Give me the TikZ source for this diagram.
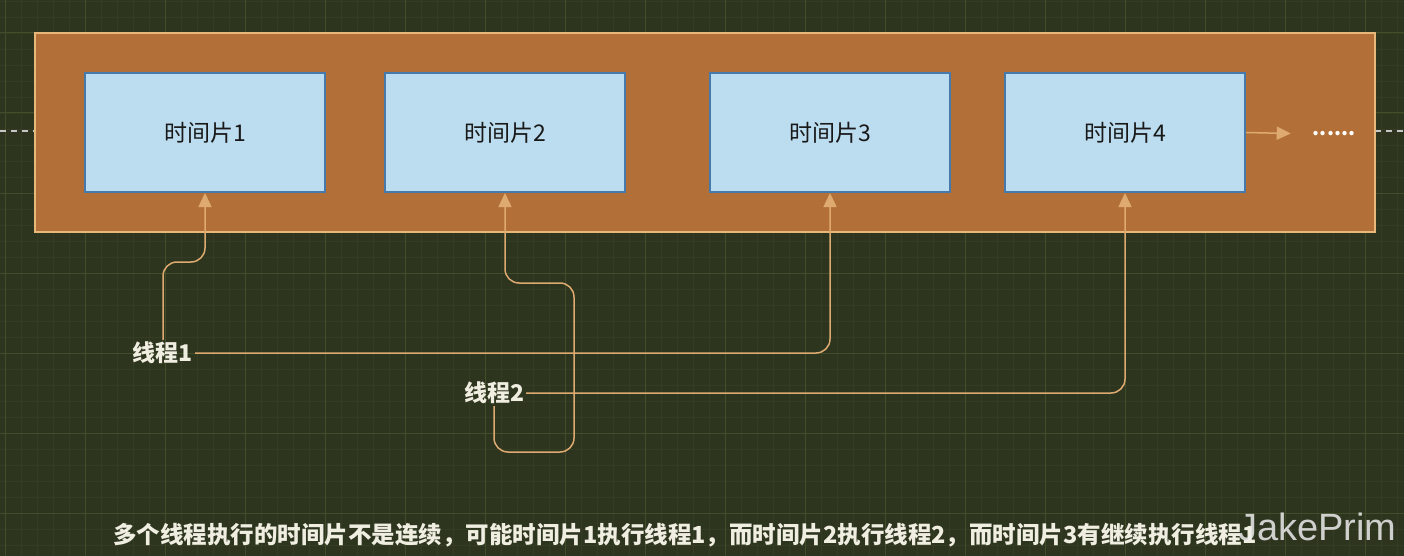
\documentclass[tikz,border=0pt]{standalone}
\usepackage{fontspec}
\setmainfont{Noto Sans CJK SC}
\newfontfamily\wmfont{Liberation Sans}
\usepackage{tikz}
\usetikzlibrary{arrows.meta, positioning}

\definecolor{bgc}{RGB}{45,53,31}
\definecolor{gridminor}{RGB}{52,61,36}
\definecolor{gridmajor}{RGB}{66,78,42}
\definecolor{framefill}{RGB}{178,112,56}
\definecolor{frameline}{RGB}{232,184,122}
\definecolor{slicefill}{RGB}{188,221,239}
\definecolor{sliceline}{RGB}{70,122,170}
\definecolor{linec}{RGB}{222,170,112}
\definecolor{labelc}{RGB}{240,238,225}

\tikzset{
  slice/.style={draw=sliceline, line width=2pt, fill=slicefill, minimum width=240pt, minimum height=119pt, font=\fontsize{23}{27}\selectfont, text=black!90},
  thread/.style={text=labelc, font=\fontsize{23}{27}\selectfont\bfseries, inner sep=2pt},
  conn/.style={draw=linec, line width=1.5pt, -{Triangle[length=14pt,width=13pt]}},
  bent/.style={rounded corners=14pt}
}

\begin{document}
\begin{tikzpicture}[x=1pt,y=-1pt]
\useasboundingbox (0,0) rectangle (1404,556);
\fill[bgc] (0,0) rectangle (1404,556);
% grid
\foreach \x in {5,21,...,1404} \draw[gridminor, line width=0.8pt] (\x,0) -- (\x,556);
\foreach \y in {1,17,...,556} \draw[gridminor, line width=0.8pt] (0,\y) -- (1404,\y);
\foreach \x in {5,85,...,1404} \draw[gridmajor, line width=1pt] (\x,0) -- (\x,556);
\foreach \y in {33,113,...,556} \draw[gridmajor, line width=1pt] (0,\y) -- (1404,\y);
\draw[gray!45, dash pattern=on 6pt off 5pt, line width=1.2pt] (0,131) -- (1404,131);

% frame and slices
\node[draw=frameline, line width=1.5pt, fill=framefill, minimum width=1340pt, minimum height=199pt, inner sep=0pt] (frame) at (705,132.5) {};
\node[slice] (s1) at (205,132.5) {时间片1};
\node[slice] (s2) at (505,132.5) {时间片2};
\node[slice] (s3) at (830,132.5) {时间片3};
\node[slice] (s4) at (1125,132.5) {时间片4};
\node[text=white, font=\fontsize{20}{24}\selectfont\bfseries, inner sep=0pt] (dots) at (1334,134) {......};
\draw[conn, shorten >=22pt] (s4.east) -- (dots.west);

% threads
\node[thread] (t1) at (163,353) {线程1};
\node[thread] (t2) at (494,393) {线程2};
\coordinate (k1) at (205,262);
\coordinate (k2) at (574,452);
\coordinate (k3) at (574,283);
\draw[conn] [bent] (t1.north) |- (k1) -- (s1.south);
\draw[conn] [bent] (t1.east) -| (s3.south);
\draw[conn] [bent] (t2.south) |- (k2) -- (k3) -| (s2.south);
\draw[conn] [bent] (t2.east) -| (s4.south);

% caption
\node[anchor=west, text=labelc, font=\fontsize{23.5}{27}\selectfont\bfseries, inner sep=0pt] (cap) at (113,535) {多个线程执行的时间片不是连续，可能时间片1执行线程1，而时间片2执行线程2，而时间片3有继续执行线程1};
\node[anchor=base west, text=gray!15, opacity=0.85, font=\wmfont\fontsize{38}{40}\selectfont, inner sep=0pt] (wm) at (1238,540) {JakePrim};
\end{tikzpicture}
\end{document}
